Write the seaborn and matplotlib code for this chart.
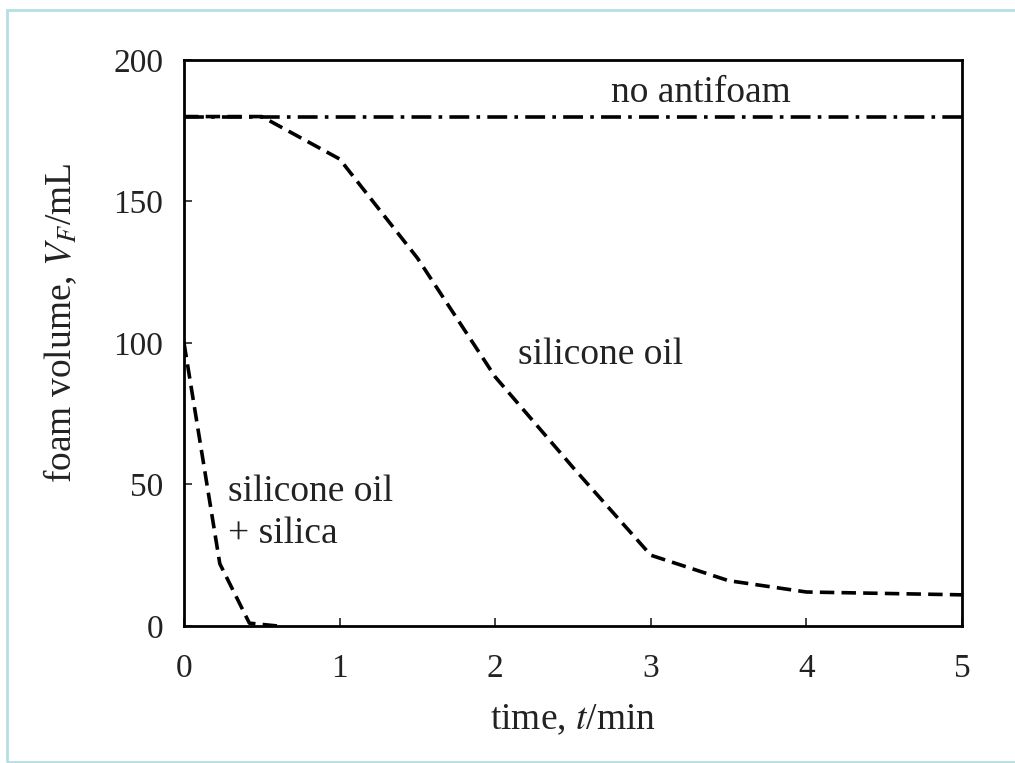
import matplotlib
matplotlib.use("Agg")
import matplotlib.pyplot as plt
import seaborn as sns
import pandas as pd
from matplotlib.patches import Rectangle

# datos
t_no_antifoam = [0, 5]
v_no_antifoam = [180, 180]

t_oil = [0, 0.5, 1.0, 1.5, 2.0, 2.5, 3.0, 3.5, 4.0, 5.0]
v_oil = [180, 180, 165, 130, 88, 56, 25, 16, 12, 11]

t_silica = [0, 0.23, 0.42, 0.6]
v_silica = [100, 22, 1, 0]

x_ticks = [0, 1, 2, 3, 4, 5]
y_ticks = [0, 50, 100, 150, 200]

sns.set_theme(style="white")
plt.rcParams['font.family'] = ['Liberation Serif', 'DejaVu Serif']
plt.rcParams['mathtext.fontset'] = 'stix'

fig = plt.figure(figsize=(10.15, 7.63), dpi=100)
ax = fig.add_axes([0.1813, 0.1796, 0.7665, 0.7418])

df_oil = pd.DataFrame({'t': t_oil, 'v': v_oil})
df_sil = pd.DataFrame({'t': t_silica, 'v': v_silica})
df_no = pd.DataFrame({'t': t_no_antifoam, 'v': v_no_antifoam})

lw = 2.6
sns.lineplot(data=df_no, x='t', y='v', ax=ax, color='black', linewidth=lw,
             estimator=None, sort=False)
ax.lines[-1].set_dashes([5.5, 2, 1, 2])
sns.lineplot(data=df_oil, x='t', y='v', ax=ax, color='black', linewidth=lw,
             estimator=None, sort=False)
ax.lines[-1].set_dashes([4, 2])
sns.lineplot(data=df_sil, x='t', y='v', ax=ax, color='black', linewidth=lw,
             estimator=None, sort=False)
ax.lines[-1].set_dashes([4, 2])

ax.set_xlim(0, 5)
ax.set_ylim(0, 200)
ax.set_xticks(x_ticks)
ax.set_yticks(y_ticks)
ax.tick_params(direction='in', length=6, width=1.2, labelsize=24, colors='#222222',
               bottom=True, left=True, top=False, right=False)
ax.tick_params(axis='x', pad=20)
ax.tick_params(axis='y', pad=15)
for s in ax.spines.values():
    s.set_color('black')
    s.set_linewidth(2)

ax.set_xlabel('time, $t$/min', fontsize=27, color='#222222')
ax.set_ylabel('foam volume, $V_F$/mL', fontsize=27, color='#222222')
ax.xaxis.set_label_coords(0.5, -0.135)
ax.yaxis.set_label_coords(-0.135, 0.535)

ax.text(3.32, 188.5, 'no antifoam', fontsize=27, ha='center', va='center', color='#222222')
ax.text(2.68, 96, 'silicone oil', fontsize=27, ha='center', va='center', color='#222222')
ax.text(0.28, 40, 'silicone oil\n+ silica', fontsize=27, ha='left', va='center',
        color='#222222', linespacing=1.3)

# marco azul claro alrededor de la figura
fig.patches.append(Rectangle((7 / 1015, 0.001), 1.2, (763 - 10) / 763 - 0.001,
                             transform=fig.transFigure, fill=False,
                             edgecolor='#b5dfe2', linewidth=2))

plt.savefig('out.png', dpi=100)
plt.close()
